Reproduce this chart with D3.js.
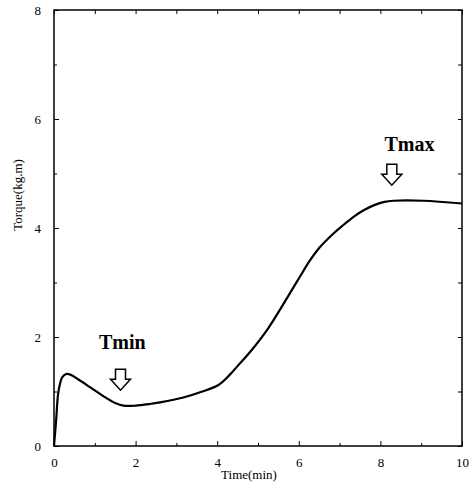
<!DOCTYPE html>
<html>
<head>
<meta charset="utf-8">
<script src="https://cdn.jsdelivr.net/npm/d3@7"></script>
<style>
  html, body { margin: 0; padding: 0; background: #fff; }
  svg { display: block; }
</style>
</head>
<body>
<svg id="chart" width="472" height="492"></svg>
<script>
// ---- data ----
const time   = [0, 0.05, 0.1, 0.15, 0.2, 0.3, 0.4, 0.6, 0.9, 1.2, 1.5, 1.7, 2.0, 2.35, 2.6, 3.17, 3.6, 4.03, 4.3, 4.56, 4.8, 5.25, 5.78, 6.03, 6.27, 6.52, 6.85, 7.1, 7.35, 7.6, 7.85, 8.1, 8.32, 9.05, 10];
const torque = [0, 0.45, 0.95, 1.15, 1.26, 1.32, 1.31, 1.22, 1.07, 0.92, 0.79, 0.74, 0.74, 0.77, 0.80, 0.89, 0.99, 1.12, 1.30, 1.52, 1.72, 2.16, 2.80, 3.11, 3.40, 3.65, 3.90, 4.06, 4.21, 4.33, 4.42, 4.48, 4.50, 4.50, 4.45];

const xTicks = [0, 2, 4, 6, 8, 10];
const yTicks = [0, 2, 4, 6, 8];
const xMinorTicks = [1, 3, 5, 7, 9];
const yMinorTicks = [1, 3, 5, 7];

const annotLabels = ["Tmin", "Tmax"];
const annotLabelTime = [1.1, 8.1];
const annotLabelTorque = [1.78, 5.42];
const arrowTime = [1.63, 8.28];
const arrowTopTorque = [1.41, 5.17];

const xTitle = "Time(min)";
const yTitle = "Torque(kg.m)";

// ---- layout ----
const svg = d3.select("#chart");
const L = 54, R = 462, T = 10, B = 446;
const x = d3.scaleLinear().domain([0, 10]).range([L, R]);
const y = d3.scaleLinear().domain([0, 8]).range([B, T]);
const serif = "'Liberation Serif', 'DejaVu Serif', serif";

// frame
svg.append("rect").attr("x", L).attr("y", T).attr("width", R - L).attr("height", B - T)
  .attr("fill", "none").attr("stroke", "#000").attr("stroke-width", 1.5);

// axes with inward ticks
function styleAxis(g) {
  g.select(".domain").remove();
  g.selectAll("line").attr("stroke", "#000").attr("stroke-width", 1);
  g.selectAll("text").attr("font-family", serif).attr("font-size", 13).attr("fill", "#000");
}
svg.append("g").attr("transform", `translate(0,${B})`)
  .call(d3.axisBottom(x).tickValues(xTicks).tickSize(-5).tickPadding(12).tickFormat(d3.format("d")))
  .call(styleAxis);
svg.append("g").attr("transform", `translate(0,${B})`)
  .call(d3.axisBottom(x).tickValues(xMinorTicks).tickSize(-3).tickFormat(""))
  .call(styleAxis);
svg.append("g").attr("transform", `translate(0,${T})`)
  .call(d3.axisTop(x).tickValues(xTicks.concat(xMinorTicks)).tickSize(-4).tickFormat(""))
  .call(styleAxis);
svg.append("g").attr("transform", `translate(${L},0)`)
  .call(d3.axisLeft(y).tickValues(yTicks).tickSize(-5).tickPadding(13).tickFormat(d3.format("d")))
  .call(styleAxis);
svg.append("g").attr("transform", `translate(${L},0)`)
  .call(d3.axisLeft(y).tickValues(yMinorTicks).tickSize(-3).tickFormat(""))
  .call(styleAxis);
svg.append("g").attr("transform", `translate(${R},0)`)
  .call(d3.axisRight(y).tickValues(yTicks.concat(yMinorTicks)).tickSize(-4).tickFormat(""))
  .call(styleAxis);

// titles
svg.append("text").attr("x", 249).attr("y", 479).attr("text-anchor", "middle")
  .attr("font-family", serif).attr("font-size", 13).text(xTitle);
svg.append("text").attr("transform", "translate(22,195) rotate(-90)").attr("text-anchor", "middle")
  .attr("font-family", serif).attr("font-size", 13).text(yTitle);

// curve
const pts = time.map((t, i) => [t, torque[i]]);
const line = d3.line().x(d => x(d[0])).y(d => y(d[1])).curve(d3.curveCatmullRom.alpha(0.5));
svg.append("path").datum(pts).attr("d", line)
  .attr("fill", "none").attr("stroke", "#000").attr("stroke-width", 2.2).attr("stroke-linejoin", "round");

// annotations
annotLabels.forEach((lab, i) => {
  svg.append("text").attr("x", x(annotLabelTime[i])).attr("y", y(annotLabelTorque[i]))
    .attr("font-family", serif).attr("font-size", 20).attr("font-weight", "bold").text(lab);
  const cx = x(arrowTime[i]), ty = y(arrowTopTorque[i]);
  const p = `M${cx - 5},${ty} L${cx + 5},${ty} L${cx + 5},${ty + 10} L${cx + 10},${ty + 10} L${cx},${ty + 21} L${cx - 10},${ty + 10} L${cx - 5},${ty + 10} Z`;
  svg.append("path").attr("d", p).attr("fill", "#fff").attr("stroke", "#000").attr("stroke-width", 1.5)
    .attr("stroke-linejoin", "miter");
});
</script>
</body>
</html>
